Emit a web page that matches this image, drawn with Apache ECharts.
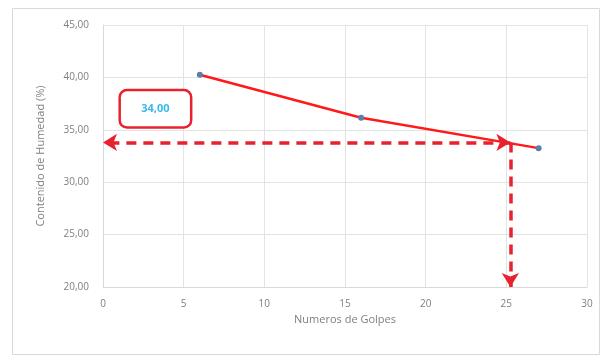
<!DOCTYPE html>
<html>
<head>
<meta charset="utf-8">
<script src="https://cdn.jsdelivr.net/npm/echarts@6/dist/echarts.min.js"></script>
<style>
  html, body { margin: 0; padding: 0; background: #fff; }
  #chart { width: 611px; height: 362px; }
</style>
</head>
<body>
<div id="chart"></div>
<script>
    'use strict';

    // golpes vs humedad
    var golpes = [6, 16, 27];
    var humedad = [40.25, 36.15, 33.25];

    // lectura a 25 golpes
    var golpesRef = 25.25;
    var humedadRef = 33.8;
    var etiquetaRef = '34,00';
    var etiquetaPos = [3.25, 37.0];

    var xTicks = [0, 5, 10, 15, 20, 25, 30];
    var yTicks = ['20,00', '25,00', '30,00', '35,00', '40,00', '45,00'];

    var txt = '#7f7f7f';
    var rojo = '#e8212f';

    var myChart = echarts.init(document.getElementById('chart'));
    var option = {
        backgroundColor: '#fff',
        animation: false,
        graphic: [{
            type: 'rect',
            shape: { x: 12.5, y: 8.5, width: 587, height: 346 },
            style: { fill: 'none', stroke: '#d9d9d9', lineWidth: 1 },
            silent: true
        }],
        grid: { left: 103, right: 24, top: 25, bottom: 75 },
        xAxis: {
            type: 'value',
            min: 0, max: 30, interval: 5,
            name: 'Numeros de Golpes',
            nameLocation: 'middle',
            nameGap: 27,
            nameTextStyle: { color: txt, fontSize: 11, fontFamily: 'Open Sans' },
            axisLine: { show: true, lineStyle: { color: '#d9d9d9' } },
            axisTick: { show: false },
            axisLabel: {
                color: txt, fontSize: 10, fontFamily: 'Open Sans', margin: 12,
                formatter: function (v) { return xTicks.indexOf(v) >= 0 ? String(v) : ''; }
            },
            splitLine: { show: true, lineStyle: { color: '#e3e3e3' } }
        },
        yAxis: {
            type: 'value',
            min: 20, max: 45, interval: 5,
            name: 'Contenido de Humedad (%)',
            nameLocation: 'middle',
            nameGap: 57,
            nameTextStyle: { color: txt, fontSize: 11, fontFamily: 'Open Sans' },
            axisLine: { show: true, lineStyle: { color: '#d9d9d9' } },
            axisTick: { show: false },
            axisLabel: {
                color: txt, fontSize: 10, fontFamily: 'Open Sans', margin: 14,
                formatter: function (v) { return yTicks[(v - 20) / 5] || ''; }
            },
            splitLine: { show: true, lineStyle: { color: '#e3e3e3' } }
        },
        series: [{
            type: 'line',
            data: golpes.map(function (g, i) { return [g, humedad[i]]; }),
            symbol: 'circle',
            symbolSize: 6,
            itemStyle: { color: '#5b7fa8' },
            lineStyle: { color: '#ff1a1a', width: 2.5 },
            z: 3,
            markLine: {
                silent: true,
                symbol: ['arrow', 'arrow'],
                symbolSize: [13, 14],
                label: { show: false },
                lineStyle: { color: rojo, type: [10, 7], width: 3.5 },
                data: [
                    [{ coord: [golpesRef, humedadRef] }, { coord: [0, humedadRef] }],
                    [{ coord: [golpesRef, humedadRef], symbol: 'none' }, { coord: [golpesRef, 20] }]
                ]
            },
            markPoint: {
                silent: true,
                data: [{
                    coord: etiquetaPos,
                    symbol: 'rect',
                    symbolSize: 1,
                    itemStyle: { color: 'rgba(0,0,0,0)' },
                    label: {
                        show: true, position: 'inside', formatter: etiquetaRef,
                        color: '#3ab8e8', fontSize: 11, fontWeight: 'bold', fontFamily: 'Open Sans',
                        backgroundColor: '#fff', borderColor: rojo, borderWidth: 2.5,
                        borderRadius: 6, width: 69, height: 35, align: 'center',
                        verticalAlign: 'middle', lineHeight: 35
                    }
                }]
            }
        }]
    };
    myChart.setOption(option);
</script>
</body>
</html>
